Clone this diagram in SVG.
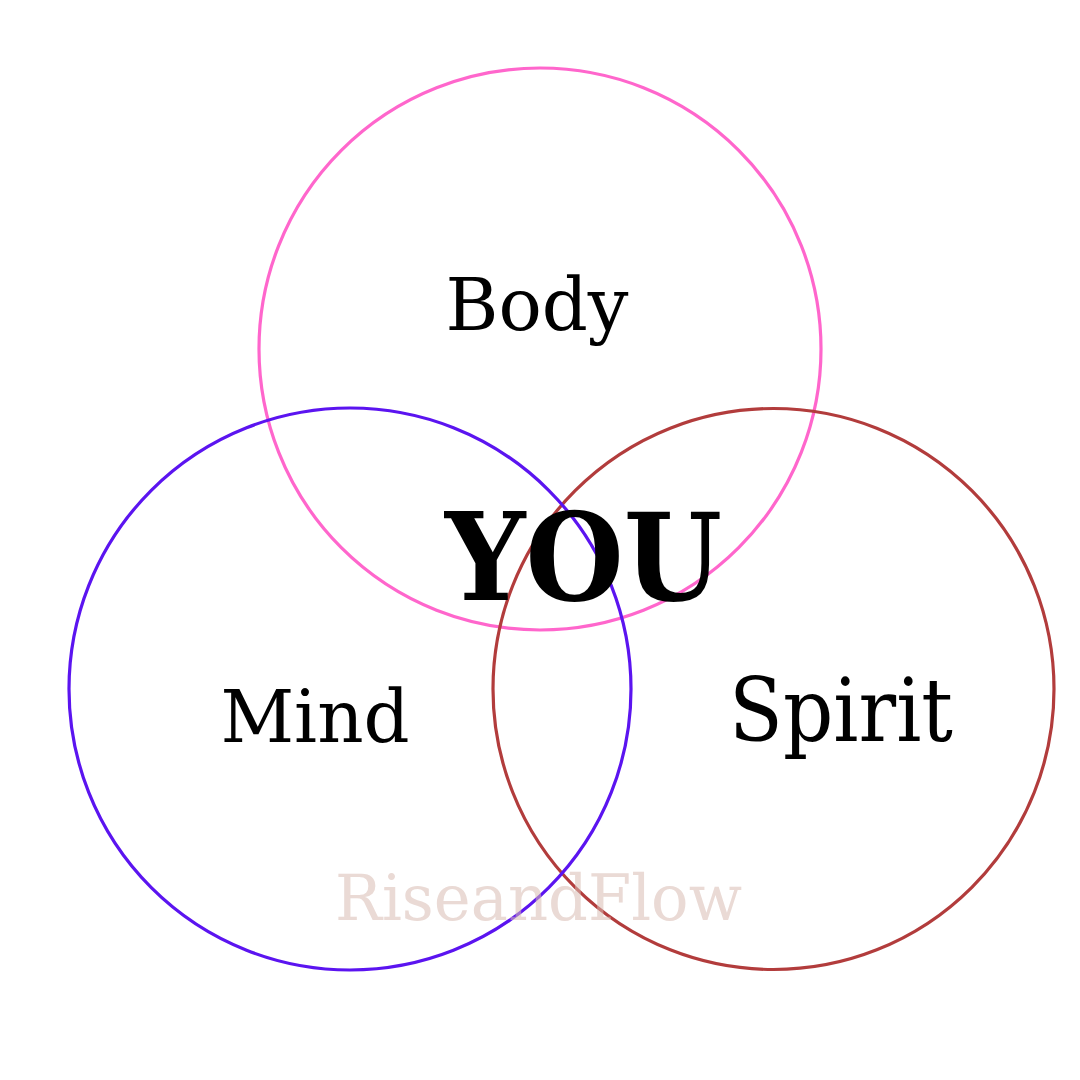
<svg xmlns="http://www.w3.org/2000/svg" width="1080" height="1080" viewBox="0 0 1080 1080">
<style>
.c{fill:none;stroke-width:3.2}
.t{font-family:"DejaVu Serif",serif;font-size:72px;fill:#000;text-anchor:middle}
</style>
<rect width="1080" height="1080" fill="#fff"/>
<g id="body"><circle class="c" cx="540" cy="349" r="281" stroke="#ff66cc"/></g>
<g id="spirit"><circle class="c" cx="773.5" cy="689" r="280.5" stroke="#b23c3c"/></g>
<g id="mind"><circle class="c" cx="350" cy="689" r="281" stroke="#5b14f0"/></g>
<g id="labels">
<text class="t" x="537" y="330">Body</text>
<text class="t" x="315" y="742">Mind</text>
<text class="t" x="841" y="741" style="font-size:88px" textLength="224" lengthAdjust="spacingAndGlyphs">Spirit</text>
<text class="t" x="583.5" y="600" style="font-weight:bold;font-size:122px" textLength="277" lengthAdjust="spacingAndGlyphs">YOU</text>
<text x="538.5" y="920" style="font-family:'DejaVu Serif',serif;font-size:64px;text-anchor:middle;fill:#d9bcb3;opacity:0.55" textLength="407" lengthAdjust="spacingAndGlyphs">RiseandFlow</text>
</g>
</svg>
